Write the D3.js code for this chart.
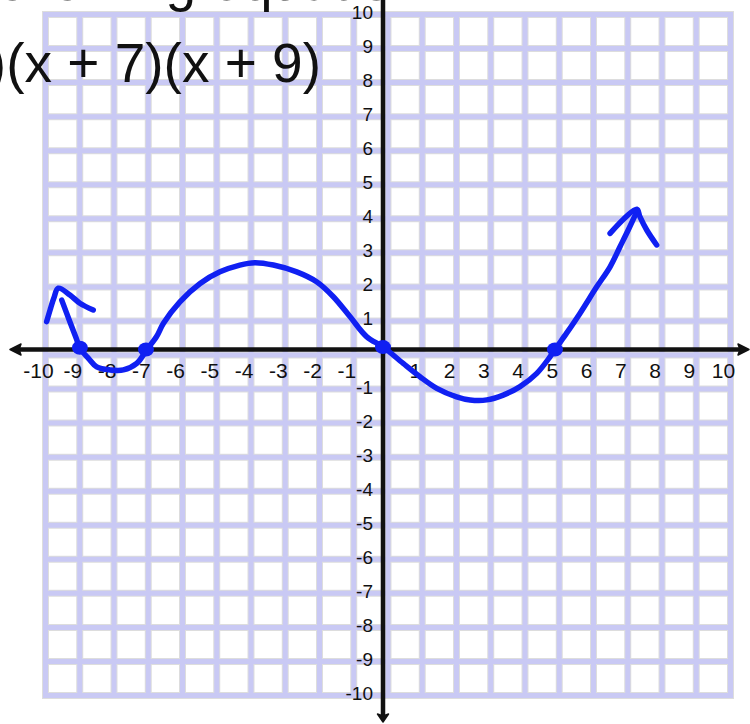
<!DOCTYPE html>
<html>
<head>
<meta charset="utf-8">
<script src="https://cdn.jsdelivr.net/npm/d3@7"></script>
<style>
  html, body { margin: 0; padding: 0; background: #ffffff; }
  svg { display: block; }
</style>
</head>
<body>
<svg id="chart" width="750" height="724"></svg>
<script>
// Worksheet prompt lines
const promptLines = ["following equation:", "y = x(x − 5)(x + 7)(x + 9)"];

// Axis tick values
const xTicks = [-10, -9, -8, -7, -6, -5, -4, -3, -2, -1, 1, 2, 3, 4, 5, 6, 7, 8, 9, 10];
const yTicks = [10, 9, 8, 7, 6, 5, 4, 3, 2, 1, -1, -2, -3, -4, -5, -6, -7, -8, -9, -10];
const gridValues = d3.range(-10, 11);

// Sketched graph of the polynomial (x, y)
const curveX = [-9.38, -9.14, -8.96, -8.85, -8.60, -8.36, -7.97, -7.58, -7.19, -6.90, -6.61, -6.41,
  -5.93, -5.34, -4.76, -4.18, -3.74, -3.20, -2.52, -1.94, -1.45, -0.96, -0.48, 0.01, 0.59, 1.08,
  1.57, 2.15, 2.54, 3.03, 3.51, 4.00, 4.49, 4.88, 5.05, 5.36, 5.75, 6.24, 6.63, 6.92, 7.16, 7.41];
const curveY = [1.45, 0.81, 0.34, 0.04, -0.26, -0.51, -0.60, -0.60, -0.41, -0.01, 0.38, 0.77,
  1.40, 1.94, 2.28, 2.48, 2.55, 2.48, 2.28, 1.99, 1.55, 0.96, 0.38, 0.07, -0.41, -0.80,
  -1.14, -1.39, -1.48, -1.48, -1.34, -1.09, -0.70, -0.21, 0.04, 0.48, 1.06, 1.84, 2.43, 3.02, 3.51, 4.05];

// Arrowheads at both ends of the sketch
const leftArrowX = [-9.82, -9.72, -9.61, -9.48, -9.14, -8.85, -8.46];
const leftArrowY = [0.82, 1.16, 1.51, 1.80, 1.60, 1.36, 1.16];
const rightArrowX = [6.63, 7.41, 7.50, 7.70, 7.99];
const rightArrowY = [3.41, 4.12, 3.90, 3.51, 3.07];

// Plotted x-intercepts
const rootX = [-8.85, -6.92, 0, 5.02];
const rootY = [0.05, 0, 0.07, 0];

const svg = d3.select("#chart");

const x = d3.scaleLinear().domain([-10, 10]).range([40.5, 725.5]);
const y = d3.scaleLinear().domain([-10, 10]).range([690, 9]);

// the printed grid sits a few pixels right of / below the hand-drawn axes
const gridDX = 5, gridDY = 5.5;
const gx = v => x(v) + gridDX;
const gy = v => y(v) + gridDY;

const LAVENDER = "#c9c9f4";
const EDGE = "#dddddd";
const INK = "#111111";
const PEN = "#1020f2";
const labelFont = "'Liberation Sans', Arial, sans-serif";

// ---- grid ----
const grid = svg.append("g");
[[EDGE, 7], [LAVENDER, 5]].forEach(([color, w]) => {
  grid.append("g").selectAll("line").data(gridValues).join("line")
    .attr("x1", d => gx(d)).attr("x2", d => gx(d))
    .attr("y1", gy(10) - w / 2).attr("y2", gy(-10) + w / 2)
    .attr("stroke", color).attr("stroke-width", w);
  grid.append("g").selectAll("line").data(gridValues).join("line")
    .attr("y1", d => gy(d)).attr("y2", d => gy(d))
    .attr("x1", gx(-10) - w / 2).attr("x2", gx(10) + w / 2)
    .attr("stroke", color).attr("stroke-width", w);
});

// ---- prompt text ----
svg.append("text")
  .attr("x", -18).attr("y", 0)
  .attr("font-family", "'Liberation Sans', Arial, sans-serif")
  .attr("font-size", 55).attr("fill", INK)
  .text(promptLines[0]);
svg.append("text")
  .attr("x", 321).attr("y", 82)
  .attr("text-anchor", "end")
  .attr("font-family", "'Liberation Sans', Arial, sans-serif")
  .attr("font-size", 55).attr("fill", INK)
  .text(promptLines[1]);

// ---- axes ----
const axes = svg.append("g");
axes.append("line")
  .attr("x1", 14).attr("x2", 744)
  .attr("y1", y(0)).attr("y2", y(0))
  .attr("stroke", INK).attr("stroke-width", 4.5);
axes.append("line")
  .attr("x1", x(0)).attr("x2", x(0))
  .attr("y1", -5).attr("y2", 718)
  .attr("stroke", INK).attr("stroke-width", 4.5);
// arrowheads
axes.append("path")
  .attr("d", `M10,${y(0)} L21,${y(0) - 5.5} L19,${y(0)} L21,${y(0) + 5.5} Z`)
  .attr("fill", INK).attr("stroke", INK).attr("stroke-width", 1.5).attr("stroke-linejoin", "round");
axes.append("path")
  .attr("d", `M749,${y(0)} L738,${y(0) - 5.5} L740,${y(0)} L738,${y(0) + 5.5} Z`)
  .attr("fill", INK).attr("stroke", INK).attr("stroke-width", 1.5).attr("stroke-linejoin", "round");
axes.append("path")
  .attr("d", `M${x(0)},722 L${x(0) - 5.5},714 L${x(0)},716 L${x(0) + 5.5},714 Z`)
  .attr("fill", INK).attr("stroke", INK).attr("stroke-width", 1.5).attr("stroke-linejoin", "round");

// tick labels
svg.append("g").selectAll("text").data(xTicks).join("text")
  .attr("x", d => x(d) - 2)
  .attr("y", y(0) + 28.5)
  .attr("text-anchor", "middle")
  .attr("font-family", labelFont).attr("font-size", 21).attr("fill", INK)
  .text(d => String(d));
svg.append("g").selectAll("text").data(yTicks).join("text")
  .attr("x", x(0) - 10)
  .attr("y", d => y(d) + 10)
  .attr("text-anchor", "end")
  .attr("font-family", labelFont).attr("font-size", 19).attr("fill", INK)
  .text(d => String(d));

// ---- sketched curve ----
const pen = d3.line()
  .x(d => x(d[0])).y(d => y(d[1]))
  .curve(d3.curveCatmullRom.alpha(0.5));
const strokes = [
  d3.zip(curveX, curveY),
  d3.zip(leftArrowX, leftArrowY),
  d3.zip(rightArrowX, rightArrowY)
];
svg.append("g").selectAll("path").data(strokes).join("path")
  .attr("d", pen)
  .attr("fill", "none")
  .attr("stroke", PEN).attr("stroke-width", 5.5)
  .attr("stroke-linecap", "round").attr("stroke-linejoin", "round");

svg.append("g").selectAll("ellipse").data(d3.zip(rootX, rootY)).join("ellipse")
  .attr("cx", d => x(d[0])).attr("cy", d => y(d[1]))
  .attr("rx", 8).attr("ry", 7)
  .attr("fill", PEN);
</script>
</body>
</html>
